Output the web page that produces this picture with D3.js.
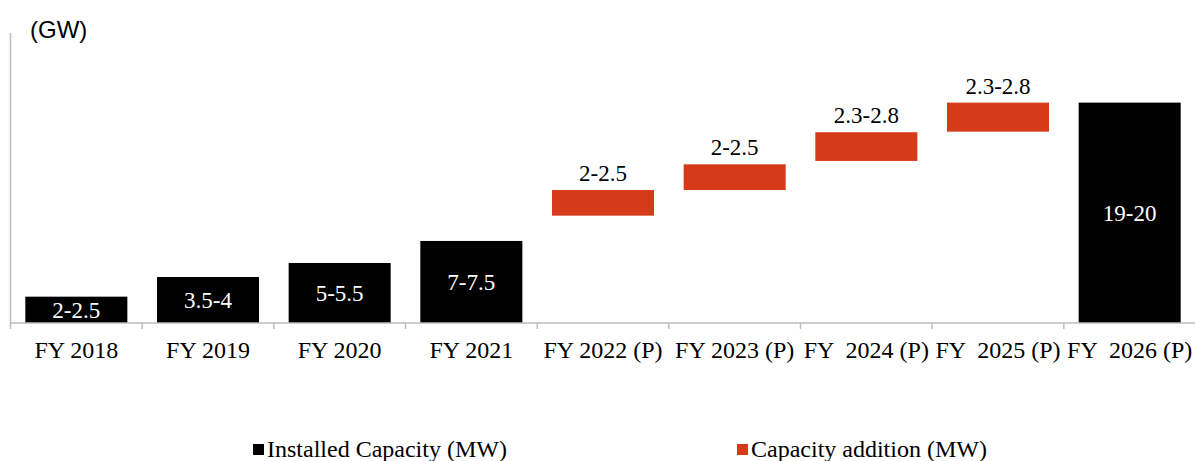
<!DOCTYPE html>
<html>
<head>
<meta charset="utf-8">
<script src="https://cdn.jsdelivr.net/npm/d3@7"></script>
<style>
    html, body { margin: 0; padding: 0; background: #fff; }
    svg { display: block; }
    text { white-space: pre; }
</style>
</head>
<body>
<div id="chart"></div>
<script>
// data (GW)
const categories = ['FY 2018', 'FY 2019', 'FY 2020', 'FY 2021', 'FY 2022 (P)',
    'FY 2023 (P)', 'FY  2024 (P)', 'FY  2025 (P)', 'FY  2026 (P)'];
// installed capacity, null where a year shows addition
const installed = [2.33, 4.07, 5.31, 7.26, null, null, null, null, 19.5];
const installedLabels = ['2-2.5', '3.5-4', '5-5.5', '7-7.5', '', '', '', '', '19-20'];
// floating addition bars: [from, to]
const additionFrom = [null, null, null, null, 9.5, 11.77, 14.34, 16.93, null];
const additionTo = [null, null, null, null, 11.77, 14.04, 16.88, 19.5, null];
const additionLabels = ['', '', '', '', '2-2.5', '2-2.5', '2.3-2.8', '2.3-2.8', ''];
const seriesNames = ['Installed Capacity (MW)', 'Capacity addition (MW)'];
const yMax = 25.66;

const W = 1195;
const H = 461;
const BLACK = '#000000';
const RED = '#d53a19';
const AXIS = '#bcbcbc';
const SERIF = '"Liberation Serif", "Times New Roman", serif';

const svg = d3.select('#chart')
    .append('svg')
    .attr('width', W)
    .attr('height', H);

const x = d3.scaleBand()
    .domain(categories)
    .range([10.5, 1195.5])
    .paddingInner(0.225)
    .paddingOuter(0.1125);

const y = d3.scaleLinear()
    .domain([0, yMax])
    .range([323, 33]);

// unit label
svg.append('text')
    .attr('x', 30)
    .attr('y', 38)
    .attr('font-family', '"Liberation Sans", Arial, sans-serif')
    .attr('font-size', 24)
    .attr('fill', '#000')
    .text('(GW)');

// installed bars
const inst = categories.map((c, i) => ({ c, v: installed[i], label: installedLabels[i] }))
    .filter(d => d.v !== null);

svg.selectAll('rect.inst')
    .data(inst)
    .enter()
    .append('rect')
    .attr('class', 'inst')
    .attr('x', d => x(d.c))
    .attr('y', d => y(d.v))
    .attr('width', x.bandwidth())
    .attr('height', d => y(0) - y(d.v))
    .attr('fill', BLACK);

svg.selectAll('text.inst-label')
    .data(inst)
    .enter()
    .append('text')
    .attr('class', 'inst-label')
    .attr('x', d => x(d.c) + x.bandwidth() / 2)
    .attr('y', d => (y(d.v) + y(0)) / 2 + 8)
    .attr('text-anchor', 'middle')
    .attr('font-family', SERIF)
    .attr('font-size', 23)
    .attr('fill', '#fff')
    .text(d => d.label);

// addition bars
const add = categories.map((c, i) => ({
    c, from: additionFrom[i], to: additionTo[i], label: additionLabels[i],
})).filter(d => d.from !== null);

svg.selectAll('rect.add')
    .data(add)
    .enter()
    .append('rect')
    .attr('class', 'add')
    .attr('x', d => x(d.c))
    .attr('y', d => y(d.to))
    .attr('width', x.bandwidth())
    .attr('height', d => y(d.from) - y(d.to))
    .attr('fill', RED);

svg.selectAll('text.add-label')
    .data(add)
    .enter()
    .append('text')
    .attr('class', 'add-label')
    .attr('x', d => x(d.c) + x.bandwidth() / 2)
    .attr('y', d => y(d.to) - 9)
    .attr('text-anchor', 'middle')
    .attr('font-family', SERIF)
    .attr('font-size', 23)
    .attr('fill', '#000')
    .text(d => d.label);

// axes
const x0 = x.range()[0];
svg.append('line')
    .attr('x1', x0).attr('x2', x0)
    .attr('y1', y(yMax)).attr('y2', y(0) + 6)
    .attr('stroke', AXIS)
    .attr('stroke-width', 1.5);

svg.append('line')
    .attr('x1', x0).attr('x2', x.range()[1])
    .attr('y1', y(0)).attr('y2', y(0))
    .attr('stroke', AXIS)
    .attr('stroke-width', 1.5);

svg.selectAll('line.tick')
    .data(d3.range(1, categories.length))
    .enter()
    .append('line')
    .attr('class', 'tick')
    .attr('x1', i => x0 + i * x.step())
    .attr('x2', i => x0 + i * x.step())
    .attr('y1', y(0))
    .attr('y2', y(0) + 6)
    .attr('stroke', AXIS)
    .attr('stroke-width', 1.5);

svg.selectAll('text.cat')
    .data(categories)
    .enter()
    .append('text')
    .attr('class', 'cat')
    .attr('x', d => x(d) + x.bandwidth() / 2)
    .attr('y', 358)
    .attr('text-anchor', 'middle')
    .attr('font-family', SERIF)
    .attr('font-size', 24)
    .attr('fill', '#000')
    .text(d => d);

// legend
const legendX = [253, 737];
const legendColors = [BLACK, RED];
const lg = svg.selectAll('g.legend')
    .data(seriesNames)
    .enter()
    .append('g')
    .attr('class', 'legend')
    .attr('transform', (d, i) => `translate(${legendX[i]},444)`);

lg.append('rect')
    .attr('width', 11)
    .attr('height', 11)
    .attr('fill', (d, i) => legendColors[i]);

lg.append('text')
    .attr('x', 14)
    .attr('y', 13)
    .attr('font-family', SERIF)
    .attr('font-size', 24)
    .attr('fill', '#000')
    .text(d => d);
</script>
</body>
</html>
